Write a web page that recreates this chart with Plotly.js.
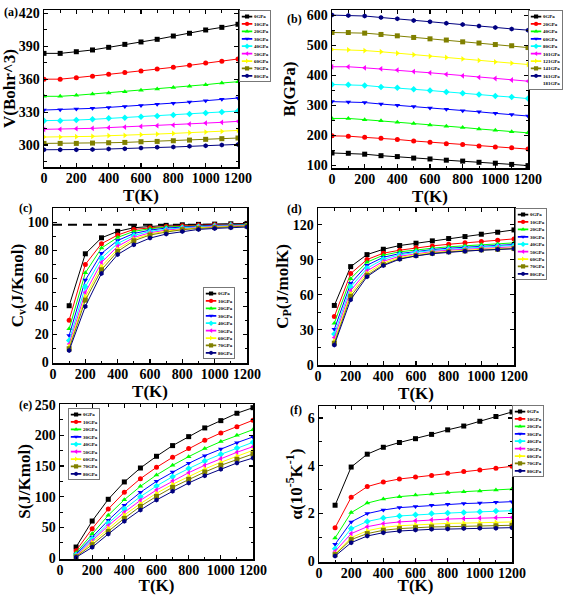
<!DOCTYPE html>
<html>
<head>
<meta charset="utf-8">
<script src="https://cdn.plot.ly/plotly-3.0.1.min.js"></script>
<style>html,body{margin:0;padding:0;background:#fff;}#chart{width:567px;height:595px;}</style>
</head>
<body>
<div id="chart"></div>
<script>
// ---------- data ----------
const pressures = ['0GPa','10GPa','20GPa','30GPa','40GPa','50GPa','60GPa','70GPa','80GPa'];
const bPressures = ['0GPa','20GPa','40GPa','60GPa','80GPa','101GPa','121GPa','141GPa','161GPa','181GPa'];
const tempFull = [0,100,200,300,400,500,600,700,800,900,1000,1100,1200];
const tempFrom100 = [100,200,300,400,500,600,700,800,900,1000,1100,1200];

// (a) V (Bohr^3)
const volume = [
  [383.5,383.5,385,386.6,389,391.7,393.9,396.3,399.3,401.8,404.8,407.2,410],
  [360,360,361.4,362.6,364.4,366,367.4,369.3,370.8,372.6,374.7,376.3,378.4],
  [344.4,344.4,345.3,346.5,347.4,348.6,349.8,351,352.3,353.5,355,356.5,357.7],
  [331.9,332.2,332.8,333.4,334.3,335.2,336.1,337.1,338,339.2,340.4,341.6,342.8],
  [322.2,322.2,322.8,323.4,324.3,324.9,325.8,326.4,327.3,328.3,329.2,330.1,331],
  [314.3,314.3,314.9,315.2,315.8,316.4,317,317.6,318.2,319.1,320,320.7,321.6],
  [307.3,307.3,307.6,307.9,308.5,308.8,309.4,310,310.6,311.2,311.8,312.4,313.3],
  [301.5,301.5,301.5,301.8,302.1,302.4,303,303.3,303.9,304.5,305.2,305.8,306.4],
  [295.7,295.7,295.7,296,296.4,296.7,297.3,297.9,298.2,298.8,299.4,300,300.6]
];
// (b) B (GPa); the 181GPa series has a legend entry but no visible points
const bulk = [
  [141,140,137,132,129,124,121,117,114,110,107,103,99],
  [198,197,193,190,186,181,177,172,169,164,161,158,154],
  [256,256,252,248,243,239,234,230,226,221,217,212,208],
  [312,311,309,304,300,296,291,287,282,278,273,269,264],
  [369,368,366,361,358,353,349,344,340,336,331,327,322],
  [428,428,424.5,421,417,412,408,403,398,393,389,384,380],
  [485.6,484.4,482,478,473,468,463,459,454,449,444,440,435.6],
  [542,542,540,535.6,531,525.6,521,517,511,507,502,498,492],
  [600,599,597,592,588,582,578,573,569,564,559,554,550],
  [null,null,null,null,null,null,null,null,null,null,null,null,null]
];
// (c) Cv (J/Kmol)
const cv = [
  [40.5,77.6,89,93.6,96.2,97.1,97.9,98.3,98.6,98.8,99,99.3],
  [30.2,70,84.8,91,95,96.2,97.1,97.6,98.1,98.3,98.6,98.8],
  [24,64,81.7,89.3,93.6,95.5,96.7,97.1,97.6,98.1,98.3,98.6],
  [19.3,58.8,77.9,87.1,92.1,94.5,96,96.7,97.4,97.9,98.1,98.3],
  [15.7,54,74.5,85,90.7,93.6,95.2,96.2,96.9,97.4,97.9,98.1],
  [13.1,50,71.4,82.9,89.3,92.6,94.5,95.7,96.4,97.1,97.6,97.9],
  [11.2,47,68.6,81,88.1,91.7,93.8,95.2,96.2,96.7,97.1,97.6],
  [9.8,44.5,66.2,79.3,86.9,91,93.1,94.8,95.7,96.4,96.9,97.4],
  [8.6,40,63.6,77.1,84,88.8,91.7,93.6,95,95.7,96.2,96.7]
];
const cvLimitT = [0,1200];
const cvLimit = [98.4,98.4];
// (d) Cp (J/molK)
const cp = [
  [50.8,84.1,94.4,99,102.2,104.2,106.2,108.2,109.9,111.9,113.6,115.6],
  [41.3,78.1,90.2,95.6,98.2,100.2,101.9,103.3,104.5,105.6,106.8,107.9],
  [35.6,73.8,87.9,93.9,96.8,98.5,99.9,101.1,101.9,102.8,103.6,104.5],
  [30.4,69.8,85.3,92.1,95.3,97.3,98.7,99.9,100.8,101.6,102.5,103.1],
  [26.3,66.6,82.7,90.4,94.2,96.5,97.9,99,99.9,100.8,101.6,102.2],
  [23.2,63.5,80.4,88.7,93,95.3,97,98.2,99,99.9,100.5,101.1],
  [20.1,60.9,78.4,87.3,91.9,94.4,96.2,97.3,98.2,99,99.6,100.2],
  [18.4,58.6,76.7,85.8,91,93.6,95.6,96.8,97.6,98.5,99,99.6],
  [16.9,55.7,75.5,85,90.5,93.3,95.2,96.5,97.4,98.2,98.8,99.4]
];
// (e) S (J/Kmol)
const entropy = [
  [17.9,60.3,95.7,124,146.7,165.8,183.2,197.8,212,223.9,235.9,245],
  [12,47.8,79.9,107,129.3,147.8,164.1,178.3,191.8,203.8,214.1,224.5],
  [8.7,39.7,69.6,95.1,116.8,135.3,151.1,165.2,178.3,189.7,200,209.2],
  [6.5,34.2,61.4,85.9,107.1,125,140.2,154.3,166.8,177.7,188,197.3],
  [4.9,31,56.5,79.9,100,117.4,132.6,145.7,158.2,169,179.3,188.6],
  [3.8,27.7,52.7,74.5,94,110.9,125.5,139.1,151.1,162,172.3,181.5],
  [2.7,25,48.4,70.1,88.6,105.4,120.1,133.2,145.1,156,166.3,175.5],
  [2.2,21.7,43.5,64.7,84.2,100.5,115.2,128.3,140.2,151.1,160.9,169.6],
  [1.1,17.4,39.1,59.8,78.3,94.6,108.7,122.3,134.2,144.6,154.9,163]
];
// (f) alpha (1e-5 K^-1)
const alpha = [
  [2.34,3.94,4.48,4.77,4.97,5.13,5.31,5.50,5.66,5.86,6.06,6.25],
  [1.40,2.67,3.12,3.31,3.44,3.52,3.59,3.68,3.75,3.82,3.89,3.97],
  [0.97,2.03,2.43,2.60,2.70,2.77,2.81,2.87,2.91,2.94,2.98,3.02],
  [0.70,1.64,1.99,2.14,2.24,2.29,2.34,2.38,2.41,2.43,2.46,2.49],
  [0.52,1.36,1.66,1.80,1.89,1.94,1.99,2.01,2.04,2.07,2.10,2.11],
  [0.41,1.15,1.44,1.57,1.64,1.69,1.73,1.76,1.78,1.80,1.82,1.83],
  [0.31,0.98,1.27,1.41,1.48,1.52,1.55,1.58,1.59,1.61,1.62,1.64],
  [0.27,0.90,1.15,1.29,1.36,1.40,1.43,1.44,1.45,1.47,1.48,1.50],
  [0.21,0.77,1.05,1.19,1.26,1.30,1.33,1.34,1.36,1.37,1.38,1.40]
];

// ---------- styles ----------
const colors = ['#000000','#FF0000','#00FF00','#0000FF','#00FFFF','#FF00FF','#FFFF00','#808000','#000080','rgba(0,0,0,0)'];
const symbols = ['square','circle','triangle-up','triangle-down','diamond','triangle-left','triangle-right','square','hexagon','circle'];
const W = 567, H = 595;
const FONT = 'Liberation Serif, Times New Roman, serif';

function series(xs, ys, names, xa, ya, leg) {
  return ys.map((y, i) => ({
    type: 'scatter', mode: 'lines+markers',
    x: xs, y: y, name: names[i],
    xaxis: xa, yaxis: ya, legend: leg,
    line: {color: colors[i], width: 1},
    marker: {color: colors[i], symbol: symbols[i], size: 5},
    cliponaxis: true
  }));
}

const traces = [].concat(
  series(tempFull, volume, pressures, 'x', 'y', 'legend'),
  series(tempFull, bulk, bPressures, 'x2', 'y2', 'legend2'),
  [{type:'scatter', mode:'lines', x: cvLimitT, y: cvLimit, xaxis:'x3', yaxis:'y3',
    showlegend:false, line:{color:'#000', width:2, dash:'9px,6px'}}],
  series(tempFrom100, cv, pressures, 'x3', 'y3', 'legend3'),
  series(tempFrom100, cp, pressures, 'x4', 'y4', 'legend4'),
  series(tempFrom100, entropy, pressures, 'x5', 'y5', 'legend5'),
  series(tempFrom100, alpha, pressures, 'x6', 'y6', 'legend6')
);

function xd(a, b) { return [a / W, b / W]; }
function yd(top, bottom) { return [1 - bottom / H, 1 - top / H]; }

const tickFont = {family: FONT, size: 14, color: '#000', weight: 'bold'};
const titleFont = {family: FONT, size: 17, color: '#000', weight: 'bold'};

function xaxis(dom, anchor) {
  return {domain: dom, anchor: anchor, range: [0, 1200], dtick: 200, tick0: 0,
    showline: true, linewidth: 1.5, linecolor: '#000', mirror: 'ticks',
    ticks: 'inside', ticklen: 4, tickwidth: 1.2, tickcolor: '#000',
    minor: {ticks: 'inside', ticklen: 2.5, dtick: 100, tickcolor: '#000', tickwidth: 1},
    showgrid: false, zeroline: false, tickfont: tickFont, ticklabelstandoff: -2,
    title: {text: 'T(K)', font: titleFont, standoff: 0}};
}
function yaxis(dom, anchor, range, dtick, title, standoff) {
  return {domain: dom, anchor: anchor, range: range, dtick: dtick, tick0: 0,
    showline: true, linewidth: 1.5, linecolor: '#000', mirror: 'ticks',
    ticks: 'inside', ticklen: 4, tickwidth: 1.2, tickcolor: '#000',
    minor: {ticks: 'inside', ticklen: 2.5, dtick: dtick / 2, tickcolor: '#000', tickwidth: 1},
    showgrid: false, zeroline: false, tickfont: tickFont,
    title: {text: title, font: titleFont, standoff: standoff}};
}
function legend(px, py) {
  return {x: px / W, y: 1 - py / H, xanchor: 'left', yanchor: 'top',
    xref: 'paper', yref: 'paper',
    bgcolor: '#fff', bordercolor: '#777', borderwidth: 3,
    font: {family: FONT, size: 14, color: '#000', weight: 'bold'},
    itemsizing: 'constant', itemwidth: 30, tracegroupgap: 0};
}
function label(txt, px, py) {
  return {text: txt, x: px / W, y: 1 - py / H, xref: 'paper', yref: 'paper',
    xanchor: 'left', yanchor: 'top', showarrow: false,
    font: {family: FONT, size: 12, color: '#000', weight: 'bold'}};
}

const layout = {
  width: W, height: H,
  margin: {l: 0, r: 0, t: 0, b: 0, autoexpand: false},
  paper_bgcolor: '#fff', plot_bgcolor: '#fff',
  showlegend: true,
  xaxis: xaxis(xd(44, 238), 'y'),
  yaxis: yaxis(yd(10, 167), 'x', [280, 423], 30, 'V(Bohr^3)', 2),
  xaxis2: xaxis(xd(332, 528), 'y2'),
  yaxis2: yaxis(yd(10, 168), 'x2', [91, 617], 100, 'B(GPa)', 7),
  xaxis3: xaxis(xd(53, 247), 'y3'),
  yaxis3: yaxis(yd(208, 363), 'x3', [-0.4, 110.3], 20, 'C<sub>v</sub>(J/Kmol)', 0),
  xaxis4: xaxis(xd(318, 514), 'y4'),
  yaxis4: yaxis(yd(208, 365), 'x4', [-0.3, 134.4], 30, 'C<sub>P</sub>(J/molK)', 0),
  xaxis5: xaxis(xd(60, 253), 'y5'),
  yaxis5: yaxis(yd(404, 559), 'x5', [-1.6, 251], 50, 'S(J/Kmol)', 0),
  xaxis6: xaxis(xd(319, 512), 'y6'),
  yaxis6: yaxis(yd(406, 562), 'x6', [-0.04, 6.5], 2, 'α(10<sup>-5</sup>K<sup>-1</sup>)', 1),
  legend: legend(239, 10),
  legend2: legend(528, 10),
  legend3: legend(203, 287),
  legend4: legend(515, 208),
  legend5: legend(68, 408),
  legend6: legend(512, 405),
  annotations: [
    label('(a)', 2, 3), label('(b)', 285, 10), label('(c)', 17, 199),
    label('(d)', 285, 200), label('(e)', 17, 396), label('(f)', 288, 401)
  ]
};

const LEGEND_SCALE = 0.35;
Plotly.newPlot('chart', traces, layout, {displayModeBar: false, staticPlot: true}).then(function () {
  document.querySelectorAll('.infolayer > g[class^="legend"]').forEach(function (g) {
    const t = g.getAttribute('transform') || '';
    g.setAttribute('transform', t + ' scale(' + LEGEND_SCALE + ')');
  });
});
</script>
</body>
</html>
